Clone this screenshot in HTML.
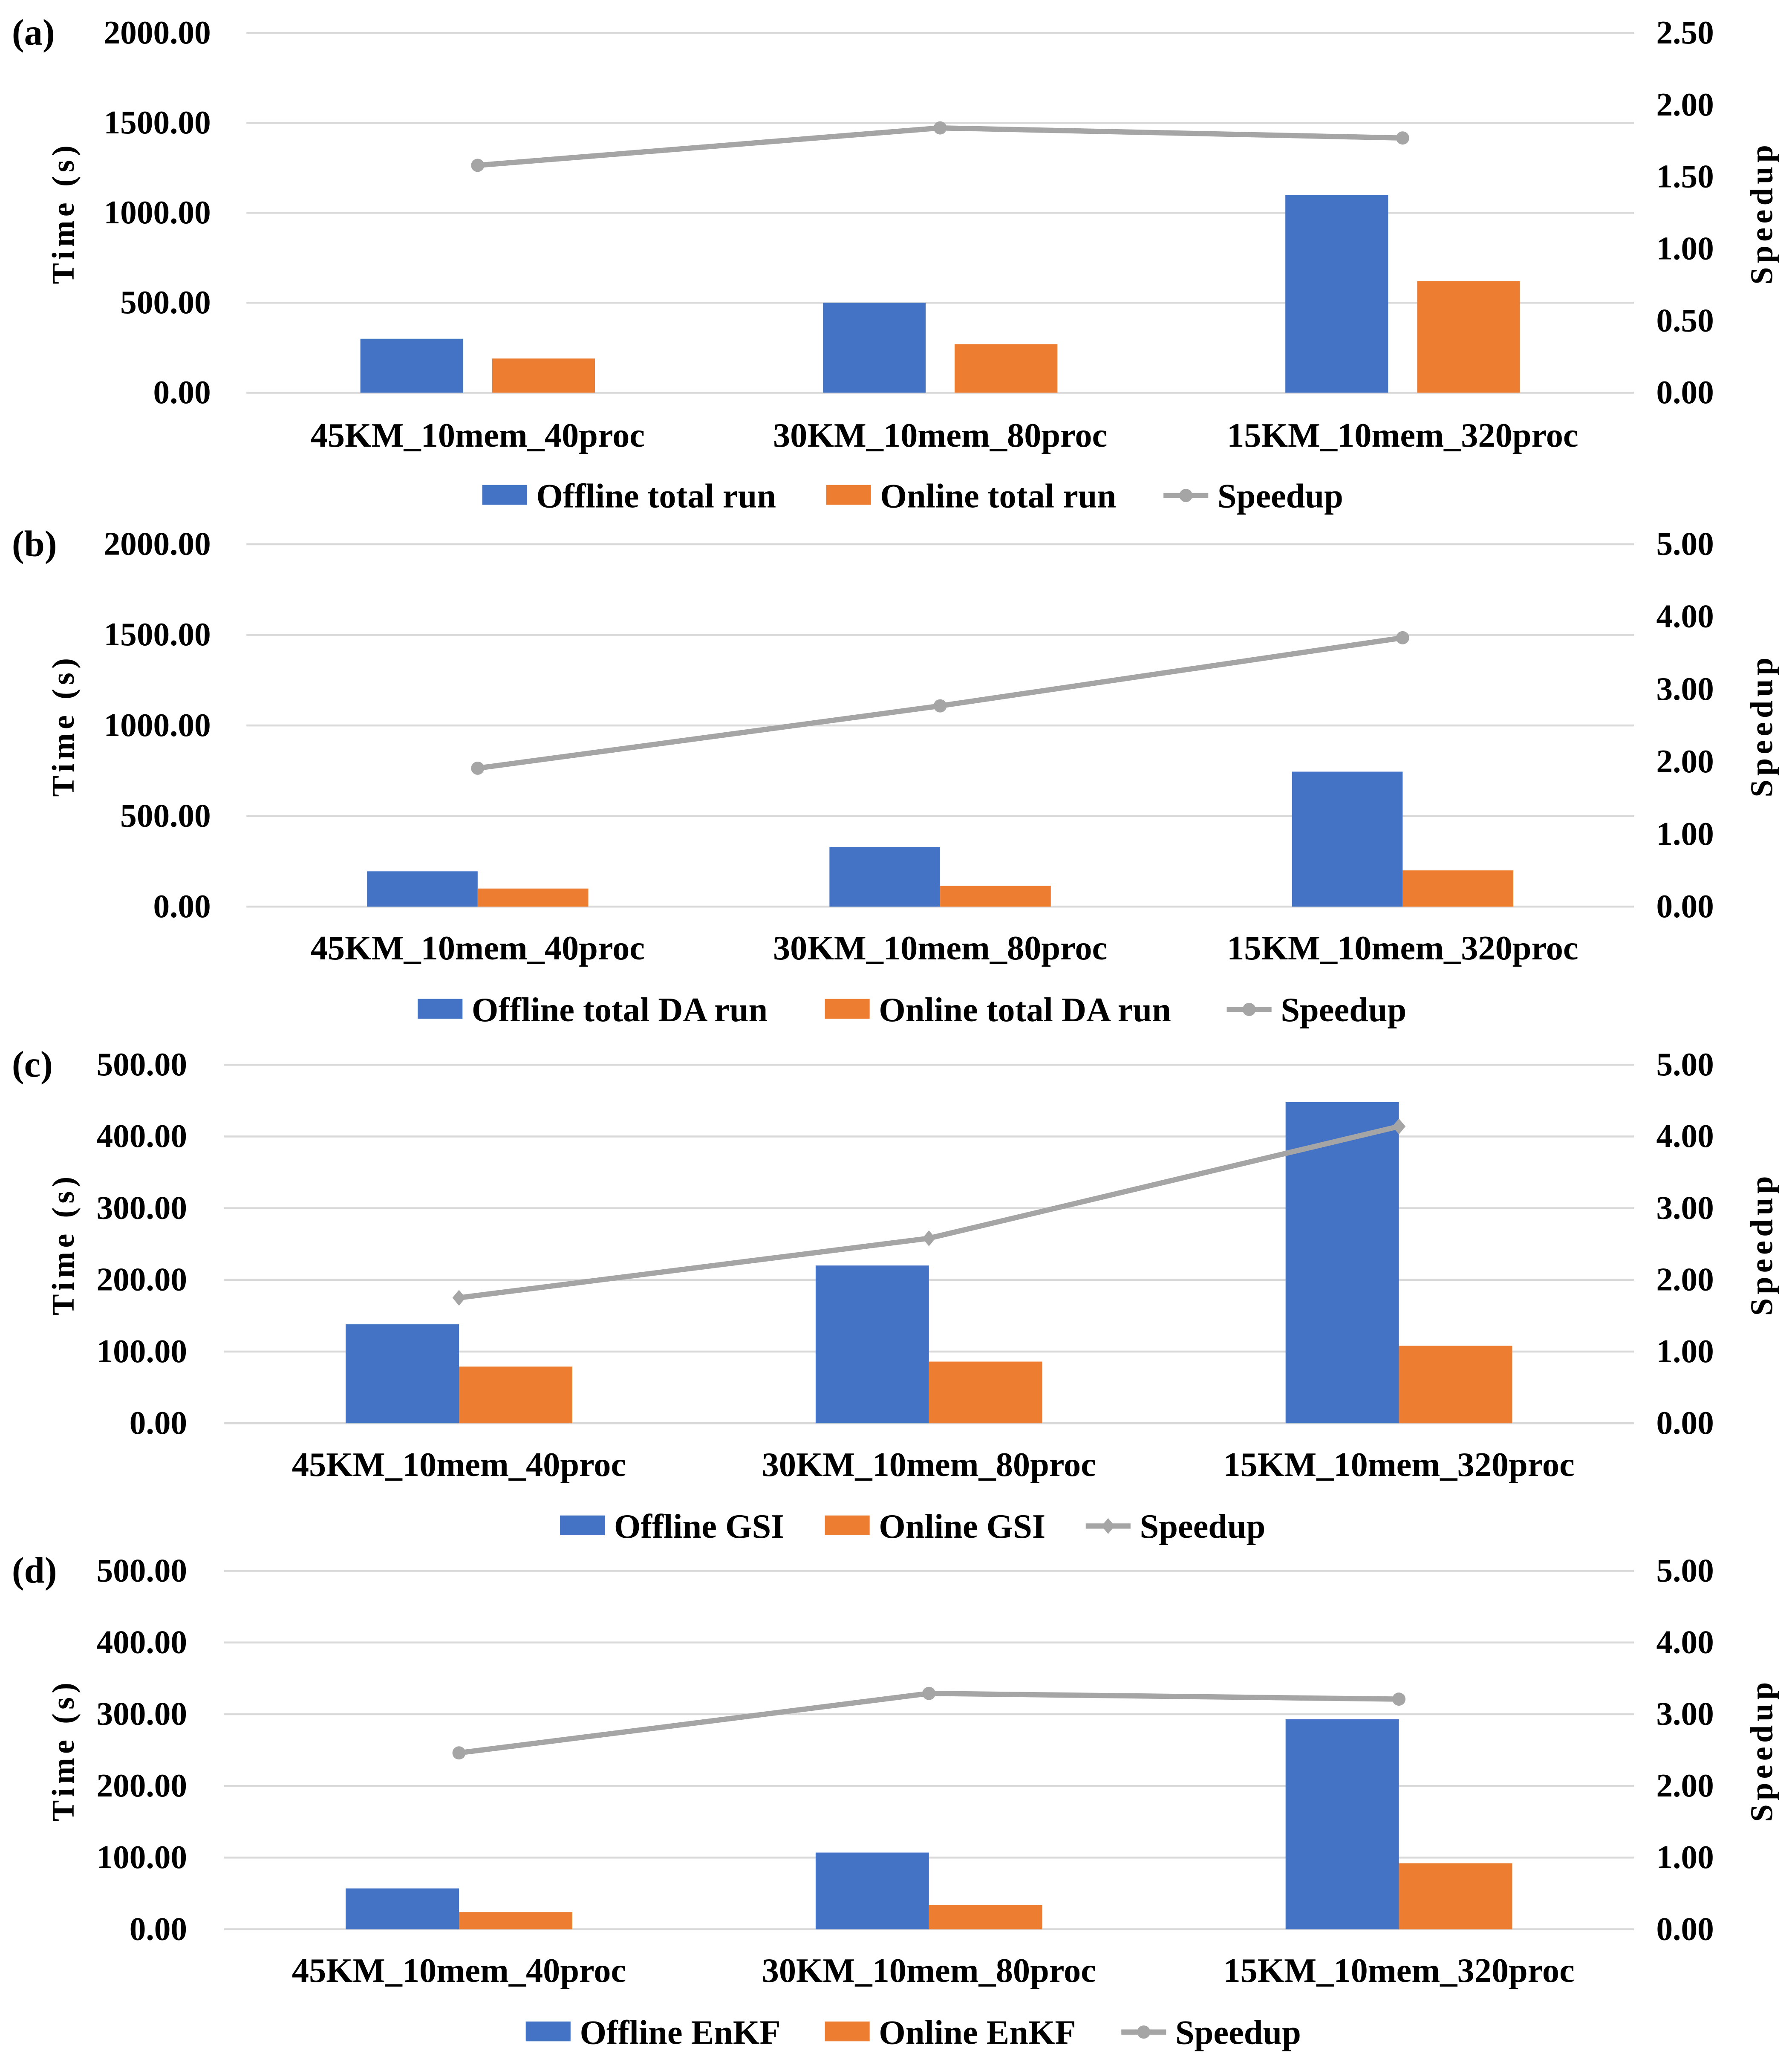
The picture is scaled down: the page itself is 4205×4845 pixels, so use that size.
<!DOCTYPE html>
<html><head><meta charset="utf-8"><style>
html,body{margin:0;padding:0;background:#fff;}
svg{display:block;}
text{font-family:"Liberation Serif",serif;font-weight:bold;fill:#000;}
</style></head><body>
<svg id="fig" width="4205" height="4845" viewBox="0 0 1360 1567" preserveAspectRatio="none" xmlns="http://www.w3.org/2000/svg"></svg>
<script>
const categories = ["45KM_10mem_40proc","30KM_10mem_80proc","15KM_10mem_320proc"];
const offlineA = [300, 500, 1100];
const onlineA = [190, 270, 620];
const speedupA = [1.58, 1.84, 1.77];
const offlineB = [195, 330, 745];
const onlineB = [100, 115, 200];
const speedupB = [1.91, 2.77, 3.71];
const offlineC = [138, 220, 448];
const onlineC = [79, 86, 108];
const speedupC = [1.75, 2.58, 4.14];
const offlineD = [57, 107, 293];
const onlineD = [24, 34, 92];
const speedupD = [2.46, 3.29, 3.21];
const leftTicksAB = [0, 500, 1000, 1500, 2000];
const leftTicksCD = [0, 100, 200, 300, 400, 500];
const rightTicksA = [0, 0.5, 1.0, 1.5, 2.0, 2.5];
const rightTicksBCD = [0, 1, 2, 3, 4, 5];
const legendA = ["Offline total run","Online total run","Speedup"];
const legendB = ["Offline total DA run","Online total DA run","Speedup"];
const legendC = ["Offline GSI","Online GSI","Speedup"];
const legendD = ["Offline EnKF","Online EnKF","Speedup"];

const NS="http://www.w3.org/2000/svg";
const svg=document.getElementById('fig');
function mk(tag,attrs,parent){const e=document.createElementNS(NS,tag);for(const k in attrs)e.setAttribute(k,attrs[k]);(parent||svg).appendChild(e);return e;}

const panels=[
 {id:'a',top:25,bot:298,x0:187,x1:1240,lmax:2000,rmax:2.5,lt:leftTicksAB,rt:rightTicksA,off:offlineA,on:onlineA,sp:speedupA,bw:78,gap:22,diamond:false,leg:legendA,legX:[366,627,883],catY:330,legY:376,tickX:160},
 {id:'b',top:413,bot:688,x0:187,x1:1240,lmax:2000,rmax:5,lt:leftTicksAB,rt:rightTicksBCD,off:offlineB,on:onlineB,sp:speedupB,bw:84,gap:0,diamond:false,leg:legendB,legX:[317,626,931],catY:719,legY:766,tickX:160},
 {id:'c',top:808,bot:1080,x0:170,x1:1240,lmax:500,rmax:5,lt:leftTicksCD,rt:rightTicksBCD,off:offlineC,on:onlineC,sp:speedupC,bw:86,gap:0,diamond:true,leg:legendC,legX:[425,626,824],catY:1111,legY:1158,tickX:142},
 {id:'d',top:1192,bot:1464,x0:170,x1:1240,lmax:500,rmax:5,lt:leftTicksCD,rt:rightTicksBCD,off:offlineD,on:onlineD,sp:speedupD,bw:86,gap:0,diamond:false,leg:legendD,legX:[399,626,851],catY:1495,legY:1542,tickX:142}
];

panels.forEach(p=>{
 const g=mk('g',{});
 
 
 const yL=v=>p.bot-(v/p.lmax)*(p.bot-p.top);
 const yR=v=>p.bot-(v/p.rmax)*(p.bot-p.top);
 const band=(p.x1-p.x0)/categories.length;
 const xC=i=>p.x0+band*(i+0.5);
 const pl=mk('text',{x:9,y:p.top+9,'font-size':28},g);pl.textContent='('+p.id+')';
 
 
 p.lt.forEach(v=>{
  const ln=mk('line',{x1:p.x0,x2:p.x1,y1:yL(v),y2:yL(v),stroke:'#D9D9D9','stroke-width':1.5},g);
  
  
  const t=mk('text',{x:p.tickX,y:yL(v)+8,'font-size':25,'text-anchor':'end'},g);t.textContent=v.toFixed(2);
  
  
 });
 p.rt.forEach(v=>{
  const t=mk('text',{x:1257,y:yR(v)+8,'font-size':25},g);t.textContent=v.toFixed(2);
  
  
 });
 const cy=(p.top+p.bot)/2;
 const lt=mk('text',{x:0,y:0,'font-size':24,'letter-spacing':3,'text-anchor':'middle',transform:`translate(56,${cy}) rotate(-90)`},g);lt.textContent='Time (s)';
 
 
 const rt=mk('text',{x:0,y:0,'font-size':24,'letter-spacing':3,'text-anchor':'middle',transform:`translate(1345,${cy}) rotate(-90)`},g);rt.textContent='Speedup';
 
 
 categories.forEach((c,i)=>{
  const cx=xC(i);
  const bx=cx-p.gap/2-p.bw, ox=cx+p.gap/2;
  const b=mk('rect',{x:bx,y:yL(p.off[i]),width:p.bw,height:p.bot-yL(p.off[i]),fill:'#4472C4'},g);
  
  
  const o=mk('rect',{x:ox,y:yL(p.on[i]),width:p.bw,height:p.bot-yL(p.on[i]),fill:'#ED7D31'},g);
  
  
  const t=mk('text',{x:cx,y:p.catY+9,'font-size':26,'text-anchor':'middle'},g);t.textContent=c;
  
  
 });
 const pts=p.sp.map((v,i)=>xC(i)+','+yR(v)).join(' ');
 const pl2=mk('polyline',{points:pts,fill:'none',stroke:'#A5A5A5','stroke-width':4},g);
 
 
 p.sp.forEach((v,i)=>{
  let m;
  if(p.diamond){const x=xC(i),y=yR(v);m=mk('polygon',{points:`${x},${y-6} ${x+5},${y} ${x},${y+6} ${x-5},${y}`,fill:'#A5A5A5'},g);}
  else m=mk('circle',{cx:xC(i),cy:yR(v),r:5,fill:'#A5A5A5'},g);
  
  
 });
 const ly=p.legY;
 const cols=['#4472C4','#ED7D31'];
 for(let k=0;k<3;k++){
  const lx=p.legX[k];
  let sw;
  if(k<2){sw=mk('rect',{x:lx,y:ly-8,width:34,height:15,fill:cols[k]},g);}
  else{sw=mk('g',{},g);mk('line',{x1:lx,x2:lx+34,y1:ly,y2:ly,stroke:'#A5A5A5','stroke-width':4},sw);
   if(p.diamond)mk('polygon',{points:`${lx+17},${ly-6} ${lx+22},${ly} ${lx+17},${ly+6} ${lx+12},${ly}`,fill:'#A5A5A5'},sw);
   else mk('circle',{cx:lx+17,cy:ly,r:5,fill:'#A5A5A5'},sw);}
  
  
  const t=mk('text',{x:lx+41,y:ly+9,'font-size':26},g);t.textContent=p.leg[k];
  
  
 }
});
</script>
</body></html>
